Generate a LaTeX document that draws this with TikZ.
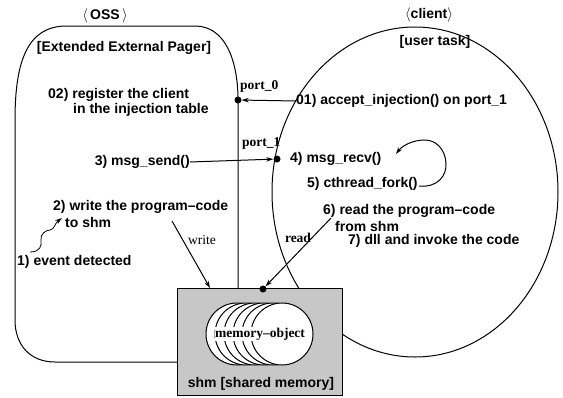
\documentclass[tikz,border=0pt]{standalone}
\usepackage{fontspec}
\setmainfont{Liberation Serif}
\setsansfont{Liberation Sans}
\usetikzlibrary{arrows.meta}
\begin{document}
\begin{tikzpicture}[x=1pt,y=-1pt,
  lab/.style={font=\sffamily\bfseries\fontsize{14}{16}\selectfont, inner sep=0pt},
  ser/.style={font=\rmfamily\bfseries\fontsize{13.5}{15}\selectfont, inner sep=0pt},
  line/.style={line width=1pt},
  arr/.style={line width=1pt, -{Stealth[length=7pt,width=4.5pt]}},
  dotn/.style={circle, fill=black, inner sep=0pt, minimum size=7pt},
  disc/.style={draw, line width=1pt, fill=white}]
\useasboundingbox (0,0) rectangle (563,397);
% OSS outline
\draw[line] (177,362) -- (55,362) .. controls (30,362) and (15,345) .. (15,320)
  -- (15,120) .. controls (15,60) and (28,27) .. (65,26)
  -- (195,26) .. controls (225,26) and (238,60) .. (238,100) -- (238,288);
% client ellipse
\draw[line] (415,192) ellipse [x radius=143, y radius=165];
% shm box
\node (shm) [draw, line width=1pt, fill=black!22, minimum width=165pt, minimum height=107pt, inner sep=0pt] at (259.5,341.5) {};
% memory object discs
\foreach \cx in {237,246,255,264,273,282}{
  \draw[disc] (\cx,334) circle [radius=31];
}
\node (mo) [ser, fill=white, inner sep=0.5pt] at (260,334) {memory--object};
\node (shml) [lab] at (261,384) {shm [shared memory]};
% titles
\node (oss) [lab] at (105,16) {$\langle$\,OSS\,$\rangle$};
\node (eep) [lab] at (124,48) {[Extended External Pager]};
\node (cli) [lab] at (429,15) {$\langle$client$\rangle$};
\node (ut) [lab] at (435,42) {[user task]};
% texts
\node (t02a) [lab, anchor=west] at (48,95) {02) register the client};
\node (t02b) [lab, anchor=west] at (73,110) {in the injection table};
\node (t01) [lab, anchor=west] at (296,101) {01) accept\_injection() on port\_1};
\node (t3) [lab, anchor=east] at (190,162) {3) msg\_send()};
\node (t4) [lab, anchor=west] at (290,159) {4) msg\_recv()};
\node (t5) [lab, anchor=west] at (307,184) {5) cthread\_fork()};
\node (t6) [lab, anchor=west] at (323,211) {6) read the program--code};
\node (t6b) [lab, anchor=west] at (335,226) {from shm};
\node (t7) [lab, anchor=west] at (348,241) {7) dll and invoke the code};
\node (t2) [lab, anchor=west] at (53,207) {2) write the program--code};
\node (t2b) [lab, anchor=west] at (65,222) {to shm};
\node (t1) [lab, anchor=west] at (17,262) {1) event detected};
\node (p0l) [ser, anchor=west] at (240,86) {port\_0};
\node (p1l) [ser, anchor=west] at (242,143) {port\_1};
\node (wl) [ser, font=\rmfamily\fontsize{13.5}{15}\selectfont] at (202,240) {write};
\node (rl) [ser] at (298,238) {read};
% ports
\node (p0) [dotn] at (238,100) {};
\node (p1) [dotn] at (277,159) {};
\node (ps) [dotn] at (263,289) {};
% connectors
\draw[arr] (t01.west) -- (p0);
\draw[arr] (t3.east) -- (p1);
\coordinate (ws) at (172,221);
\coordinate (we) at (210,288);
\draw[arr] (ws) -- (we);
\coordinate (rs) at (331,218);
\draw[arr] (rs) -- (ps);
\coordinate (e1) at (30,252);
\coordinate (e2) at (62,218);
\draw[arr, line width=0.8pt] (e1) .. controls (40,252) and (42,246) .. (41,240)
  .. controls (40,234) and (46,230) .. (50,230)
  .. controls (55,229) and (54,224) .. (e2);
\coordinate (f1) at (419,186);
\coordinate (f2) at (396,154);
\draw[arr] (f1) .. controls (438,188) and (447,175) .. (446,163)
  .. controls (445,148) and (435,140) .. (425,140)
  .. controls (412,140) and (402,146) .. (f2);
\end{tikzpicture}
\end{document}
